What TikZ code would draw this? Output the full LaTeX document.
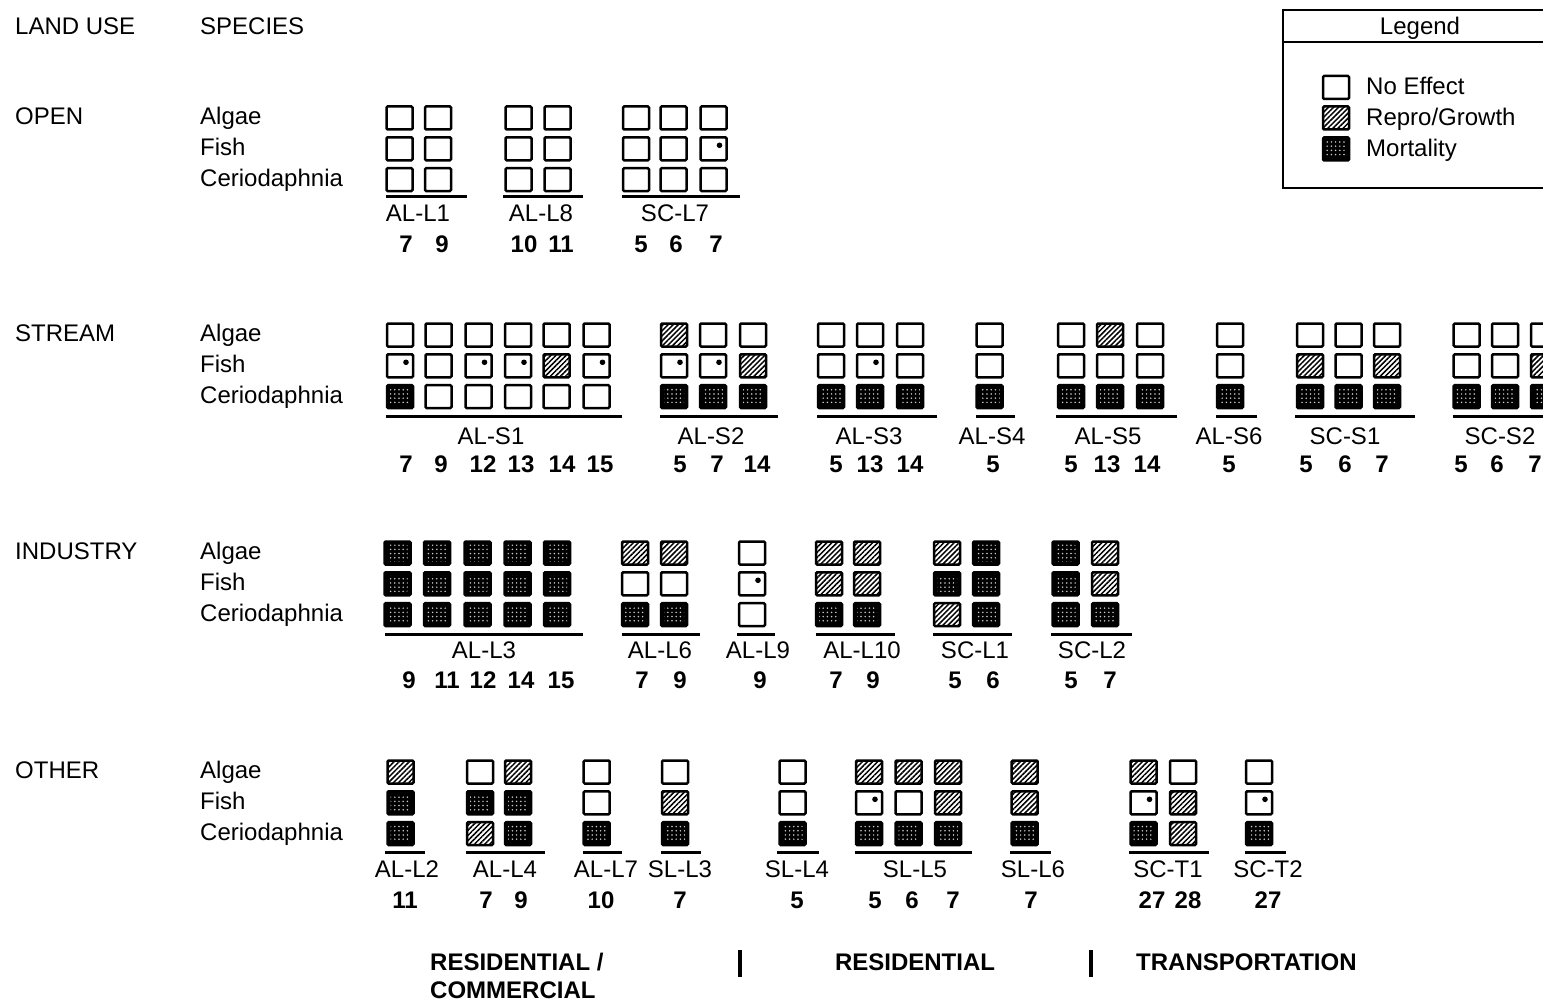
\documentclass[tikz,border=0pt]{standalone}
\usepackage{fontspec}
\setmainfont{Liberation Sans}
\usetikzlibrary{patterns.meta}
\tikzset{
  sqb/.style={minimum width=26pt, minimum height=23pt, inner sep=0pt, line width=2.5pt, rounded corners=1.2pt, draw=black},
  ne/.style={sqb, fill=white},
  rg/.style={sqb, fill=white, path picture={\fill[pattern={Lines[angle=45,distance=3.6pt,line width=1.5pt]}, pattern color=black] (path picture bounding box.south west) rectangle (path picture bounding box.north east);}},
  mo/.style={sqb, fill=black, path picture={\fill[pattern={Dots[radius=0.85pt,distance=4.2pt]}, pattern color=white!80!black] ([shift={(3pt,3pt)}]path picture bounding box.south west) rectangle ([shift={(-3pt,-3pt)}]path picture bounding box.north east);}},
  fd/.style={sqb, fill=white, path picture={\fill[black] ([shift={(6pt,3.5pt)}]path picture bounding box.center) circle (2.8pt);}},
  txt/.style={font=\fontsize{24}{28}\selectfont, inner sep=0pt, text height=17pt, text depth=0pt},
  numtxt/.style={font=\fontsize{24}{28}\selectfont\bfseries, inner sep=0pt, text height=17pt, text depth=0pt},
  uline/.style={line width=3pt},
  frame/.style={line width=2.3pt},
}
% column of three squares: name, x, y of top row, styles
\newcommand\tcol[6]{%
  \node[#4] (#1a) at (#2,#3) {};
  \node[#5] (#1f) at (#2,#3+30.8) {};
  \node[#6] (#1c) at (#2,#3+61.6) {};
}
% group underline and label: name, x1, x2, underline y, label x, label y, text
\newcommand\grp[7]{%
  \coordinate (#1u1) at (#2,#4);
  \coordinate (#1u2) at (#3,#4);
  \draw[uline] (#1u1) -- (#1u2);
  \node[txt] (#1l) at (#5,#6) {#7};
}
% numbers: name, y, list x/text
\newcommand\nums[3]{%
  \foreach \numx/\numt [count=\numi] in {#3} {\node[numtxt] (#1n\numi) at (\numx,#2) {\numt};}
}
% species labels: name, y of top row
\newcommand\species[2]{%
  \node[txt, anchor=west] (#1alg) at (200,#2-2) {Algae};
  \node[txt, anchor=west] (#1fis) at (200,#2+28.8) {Fish};
  \node[txt, anchor=west] (#1cer) at (200,#2+59.6) {Ceriodaphnia};
}
\begin{document}
\begin{tikzpicture}[x=1pt, y=-1pt]
\useasboundingbox (0,0) rectangle (1543,1003);
\clip (0,0) rectangle (1543,1003);
\fill[white] (0,0) rectangle (1543,1003);

% headers
\node[txt, anchor=west] (hland) at (15,26) {LAND USE};
\node[txt, anchor=west] (hspec) at (200,26) {SPECIES};

% legend
\draw[frame] (1283,10) rectangle (1575,188);
\draw[frame] (1283,42) -- (1575,42);
\node[txt] (legt) at (1420,26) {Legend};
\node[ne] (legne) at (1336,87.5) {};
\node[rg] (legrg) at (1336,118) {};
\node[mo] (legmo) at (1336,149) {};
\node[txt, anchor=west] (legnet) at (1366,86) {No Effect};
\node[txt, anchor=west] (legrgt) at (1366,117) {Repro/Growth};
\node[txt, anchor=west] (legmot) at (1366,148) {Mortality};

% ===== OPEN =====
\node[txt, anchor=west] (lopen) at (15,116) {OPEN};
\species{op}{118}
\tcol{oa1}{399.5}{118}{ne}{ne}{ne}
\tcol{oa2}{438}{118}{ne}{ne}{ne}
\grp{oal1}{385.7}{466.7}{197}{418}{213}{AL-L1}
\nums{oal1}{244}{406/7,442/9}
\tcol{ob1}{518.5}{118}{ne}{ne}{ne}
\tcol{ob2}{557.5}{118}{ne}{ne}{ne}
\grp{oal8}{503}{583}{197}{541}{213}{AL-L8}
\nums{oal8}{244}{524/10,561/11}
\tcol{oc1}{636}{118}{ne}{ne}{ne}
\tcol{oc2}{673.5}{118}{ne}{ne}{ne}
\tcol{oc3}{713.5}{118}{ne}{fd}{ne}
\grp{oscl7}{621.7}{740}{197}{675}{213}{SC-L7}
\nums{oscl7}{244}{641/5,676/6,716/7}

% ===== STREAM =====
\node[txt, anchor=west] (lstream) at (15,333) {STREAM};
\species{st}{335}
\tcol{sa1}{400}{335}{ne}{fd}{mo}
\tcol{sa2}{438.5}{335}{ne}{ne}{ne}
\tcol{sa3}{478.5}{335}{ne}{fd}{ne}
\tcol{sa4}{518}{335}{ne}{fd}{ne}
\tcol{sa5}{556.5}{335}{ne}{rg}{ne}
\tcol{sa6}{596.5}{335}{ne}{fd}{ne}
\grp{sals1}{385.7}{621.7}{416}{491}{436}{AL-S1}
\nums{sals1}{464}{406/7,441/9,483/12,521/13,562/14,600/15}
\tcol{sb1}{674}{335}{rg}{fd}{mo}
\tcol{sb2}{713}{335}{ne}{fd}{mo}
\tcol{sb3}{753}{335}{ne}{rg}{mo}
\grp{sals2}{660}{778}{416}{711}{436}{AL-S2}
\nums{sals2}{464}{680/5,717/7,757/14}
\tcol{sc1}{831}{335}{ne}{ne}{mo}
\tcol{sc2}{870}{335}{ne}{fd}{mo}
\tcol{sc3}{910}{335}{ne}{ne}{mo}
\grp{sals3}{817}{937}{416}{869}{436}{AL-S3}
\nums{sals3}{464}{836/5,870/13,910/14}
\tcol{sd1}{989.5}{335}{ne}{ne}{mo}
\grp{sals4}{976}{1015}{416}{992}{436}{AL-S4}
\nums{sals4}{464}{993/5}
\tcol{se1}{1071}{335}{ne}{ne}{mo}
\tcol{se2}{1110}{335}{rg}{ne}{mo}
\tcol{se3}{1150}{335}{ne}{ne}{mo}
\grp{sals5}{1056}{1177}{416}{1108}{436}{AL-S5}
\nums{sals5}{464}{1071/5,1107/13,1147/14}
\tcol{sf1}{1230}{335}{ne}{ne}{mo}
\grp{sals6}{1216}{1256.5}{416}{1229}{436}{AL-S6}
\nums{sals6}{464}{1229/5}
\tcol{sg1}{1310}{335}{ne}{rg}{mo}
\tcol{sg2}{1348.5}{335}{ne}{ne}{mo}
\tcol{sg3}{1387}{335}{ne}{rg}{mo}
\grp{sscs1}{1295}{1415}{416}{1345}{436}{SC-S1}
\nums{sscs1}{464}{1306/5,1345/6,1382/7}
\tcol{sh1}{1466.6}{335}{ne}{ne}{mo}
\tcol{sh2}{1505}{335}{ne}{ne}{mo}
\tcol{sh3}{1544}{335}{ne}{rg}{mo}
\grp{sscs2}{1453}{1570}{416}{1500}{436}{SC-S2}
\nums{sscs2}{464}{1461/5,1497/6,1535/7}

% ===== INDUSTRY =====
\node[txt, anchor=west] (lind) at (15,551) {INDUSTRY};
\species{in}{553}
\tcol{ia1}{397.5}{553}{mo}{mo}{mo}
\tcol{ia2}{437}{553}{mo}{mo}{mo}
\tcol{ia3}{477.5}{553}{mo}{mo}{mo}
\tcol{ia4}{517.5}{553}{mo}{mo}{mo}
\tcol{ia5}{557}{553}{mo}{mo}{mo}
\grp{ial3}{385}{583}{634}{484}{650}{AL-L3}
\nums{ial3}{680}{409/9,447/11,483/12,521/14,561/15}
\tcol{ib1}{635}{553}{rg}{ne}{mo}
\tcol{ib2}{674}{553}{rg}{ne}{mo}
\grp{ial6}{621.7}{700}{634}{660}{650}{AL-L6}
\nums{ial6}{680}{642/7,680/9}
\tcol{ic1}{752}{553}{ne}{fd}{ne}
\grp{ial9}{737}{775}{634}{758}{650}{AL-L9}
\nums{ial9}{680}{760/9}
\tcol{id1}{829}{553}{rg}{rg}{mo}
\tcol{id2}{867}{553}{rg}{rg}{mo}
\grp{ial10}{815.7}{895}{634}{862}{650}{AL-L10}
\nums{ial10}{680}{836/7,873/9}
\tcol{ie1}{947}{553}{rg}{mo}{rg}
\tcol{ie2}{986}{553}{mo}{mo}{mo}
\grp{iscl1}{933}{1012}{634}{975}{650}{SC-L1}
\nums{iscl1}{680}{955/5,993/6}
\tcol{if1}{1065.5}{553}{mo}{mo}{mo}
\tcol{if2}{1105}{553}{rg}{rg}{mo}
\grp{iscl2}{1051}{1132}{634}{1092}{650}{SC-L2}
\nums{iscl2}{680}{1071/5,1110/7}

% ===== OTHER =====
\node[txt, anchor=west] (loth) at (15,770) {OTHER};
\species{ot}{772}
\tcol{ta1}{400.5}{772}{rg}{mo}{mo}
\grp{tal2}{385}{425}{852}{407}{869}{AL-L2}
\nums{tal2}{900}{405/11}
\tcol{tb1}{480}{772}{ne}{mo}{rg}
\tcol{tb2}{518}{772}{rg}{mo}{mo}
\grp{tal4}{465.7}{545}{852}{505}{869}{AL-L4}
\nums{tal4}{900}{486/7,521/9}
\tcol{tc1}{596.7}{772}{ne}{ne}{mo}
\grp{tal7}{582.7}{621.7}{852}{606}{869}{AL-L7}
\nums{tal7}{900}{601/10}
\tcol{td1}{675}{772}{ne}{rg}{mo}
\grp{tsl3}{660.7}{700.7}{852}{680}{869}{SL-L3}
\nums{tsl3}{900}{680/7}
\tcol{te1}{792.5}{772}{ne}{ne}{mo}
\grp{tsl4}{777}{818.6}{852}{797}{869}{SL-L4}
\nums{tsl4}{900}{797/5}
\tcol{tf1}{869}{772}{rg}{fd}{mo}
\tcol{tf2}{908.5}{772}{rg}{ne}{mo}
\tcol{tf3}{948}{772}{rg}{rg}{mo}
\grp{tsl5}{854.7}{972}{852}{915}{869}{SL-L5}
\nums{tsl5}{900}{875/5,912/6,953/7}
\tcol{tg1}{1024.7}{772}{rg}{rg}{mo}
\grp{tsl6}{1010}{1051.4}{852}{1033}{869}{SL-L6}
\nums{tsl6}{900}{1031/7}
\tcol{th1}{1143.5}{772}{rg}{fd}{mo}
\tcol{th2}{1183}{772}{ne}{rg}{rg}
\grp{tsct1}{1129}{1208.5}{852}{1168}{869}{SC-T1}
\nums{tsct1}{900}{1152/27,1188/28}
\tcol{ti1}{1259}{772}{ne}{fd}{mo}
\grp{tsct2}{1244.6}{1286}{852}{1268}{869}{SC-T2}
\nums{tsct2}{900}{1268/27}

% ===== bottom categories =====
\node[numtxt, anchor=west] (cres1) at (430,962) {RESIDENTIAL /};
\node[numtxt, anchor=west] (cres2) at (430,990) {COMMERCIAL};
\coordinate (bar1t) at (740,950);
\coordinate (bar1b) at (740,977);
\draw[line width=3.5pt] (bar1t) -- (bar1b);
\node[numtxt] (cres) at (915,962) {RESIDENTIAL};
\coordinate (bar2t) at (1091,950);
\coordinate (bar2b) at (1091,977);
\draw[line width=3.5pt] (bar2t) -- (bar2b);
\node[numtxt, anchor=west] (ctrans) at (1136,962) {TRANSPORTATION};
\end{tikzpicture}
\end{document}
